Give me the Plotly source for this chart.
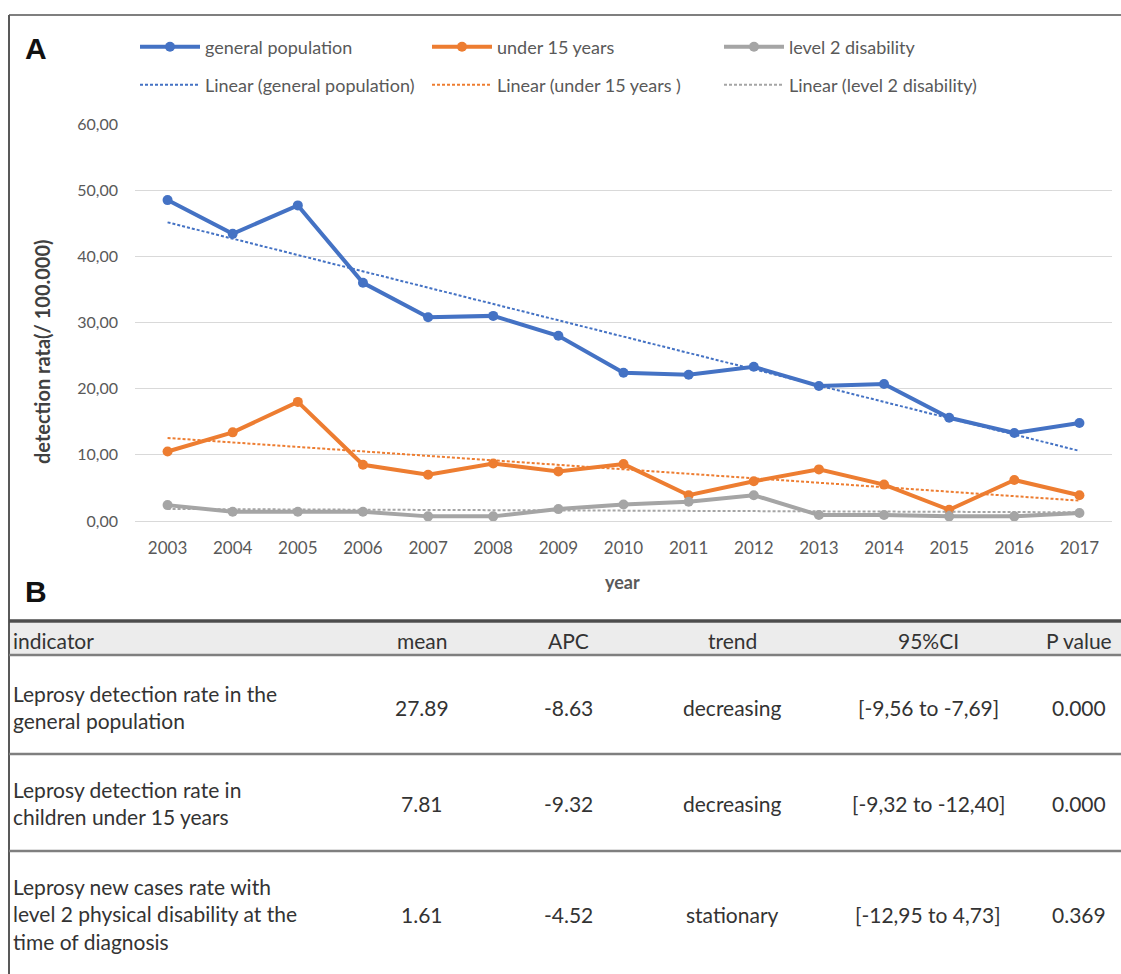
import numpy as np
import plotly.graph_objects as go

# ---- chart data: detection rates per 100,000 ----
years = list(range(2003, 2018))
general_population = [48.5, 43.4, 47.7, 36.0, 30.8, 31.0, 28.0, 22.4, 22.1, 23.3, 20.4, 20.7, 15.6, 13.3, 14.8]
under_15_years = [10.5, 13.4, 18.0, 8.5, 7.0, 8.7, 7.5, 8.6, 3.9, 6.0, 7.8, 5.5, 1.7, 6.2, 3.9]
level_2_disability = [2.4, 1.4, 1.4, 1.4, 0.7, 0.7, 1.8, 2.5, 2.9, 3.9, 0.9, 0.9, 0.7, 0.7, 1.2]
y_ticks = [0, 10, 20, 30, 40, 50, 60]

# ---- table data ----
table_header = ["indicator", "mean", "APC", "trend", "95%CI", "P value"]
indicator_labels = [
    "Leprosy detection rate in the<br>general population",
    "Leprosy detection rate in<br>children under 15 years",
    "Leprosy new cases rate with<br>level 2 physical disability at the<br>time of diagnosis",
]
mean_values = ["27.89", "7.81", "1.61"]
apc_values = ["-8.63", "-9.32", "-4.52"]
trend_labels = ["decreasing", "decreasing", "stationary"]
ci_labels = ["[-9,56 to -7,69]", "[-9,32 to -12,40]", "[-12,95 to 4,73]"]
p_values = ["0.000", "0.000", "0.369"]

series = [
    ("general population", "Linear (general population)", general_population, "#4472C4"),
    ("under 15 years", "Linear (under 15 years )", under_15_years, "#ED7D31"),
    ("level 2 disability", "Linear (level 2 disability)", level_2_disability, "#A5A5A5"),
]

W, H = 1121, 974
PL, PR, PT, PB = 135, 1112, 124, 521  # plot area in pixels


def fx(px):
    return (px - PL) / (PR - PL)


def fy(py):
    return (PB - py) / (PB - PT)


CHART_FONT = "Lato"
TABLE_FONT = "Lato"
GREY_TEXT = "#595959"

fig = go.Figure()

for name, _, values, color in series:
    fig.add_trace(go.Scatter(
        x=years, y=values, name=name, mode="lines+markers",
        line=dict(color=color, width=4),
        marker=dict(color=color, size=10, symbol="circle"),
        legend="legend",
    ))

# least-squares linear trend for each series
xs = np.array(years, dtype=float)
for _, lin_name, values, color in series:
    slope, intercept = np.polyfit(xs, np.array(values), 1)
    fig.add_trace(go.Scatter(
        x=years, y=(slope * xs + intercept).tolist(), name=lin_name, mode="lines",
        line=dict(color=color, width=2, dash="3px,2px"),
        legend="legend2",
    ))

legend_common = dict(
    orientation="h", x=0, xanchor="left", yanchor="middle",
    itemwidth=60, entrywidth=217, entrywidthmode="pixels",
    font=dict(family=CHART_FONT, size=18, color=GREY_TEXT),
    bgcolor="rgba(0,0,0,0)", borderwidth=0, traceorder="normal",
)

shapes = []
line_grey = "#7f7f7f"
# panel frame: top edge and left edge
shapes.append(dict(type="line", xref="paper", yref="paper", x0=fx(9), x1=fx(W + 2), y0=fy(15), y1=fy(15),
                   line=dict(color=line_grey, width=2)))
shapes.append(dict(type="line", xref="paper", yref="paper", x0=fx(9), x1=fx(9), y0=fy(15), y1=fy(H + 2),
                   line=dict(color="#595959", width=2)))
# table header band and rules
shapes.append(dict(type="rect", xref="paper", yref="paper", x0=fx(10), x1=fx(W + 2), y0=fy(623), y1=fy(654),
                   fillcolor="#ececec", line=dict(width=0), layer="below"))
shapes.append(dict(type="line", xref="paper", yref="paper", x0=fx(9), x1=fx(W + 2), y0=fy(621), y1=fy(621),
                   line=dict(color="#4d4d4d", width=3.5)))
for ry in [655, 754, 851]:
    shapes.append(dict(type="line", xref="paper", yref="paper", x0=fx(9), x1=fx(W + 2), y0=fy(ry), y1=fy(ry),
                       line=dict(color=line_grey, width=2.5)))


def note(text, x, y, size, color, family, xanchor="center", align="center", angle=0):
    return dict(text=text, x=fx(x), y=fy(y), xref="paper", yref="paper", showarrow=False,
                xanchor=xanchor, yanchor="middle", align=align, textangle=angle,
                font=dict(family=family, size=size, color=color))


annotations = [
    note("<b>A</b>", 36, 48, 30, "#111111", "Liberation Sans"),
    note("<b>B</b>", 36, 591, 30, "#111111", "Liberation Sans"),
    note("<b>detection rata(/ 100.000)</b>", 42, 352, 20, "#404040", CHART_FONT, angle=-90),
    note("<b>year</b>", 622, 582, 18, GREY_TEXT, CHART_FONT),
]

table_text = "#333333"
TS = 21
col_centers = [None, 422, 568, 732, 928, 1079]
header_y = 640
row_y = [707, 803, 914]

annotations.append(note(table_header[0], 11, header_y, TS, table_text, TABLE_FONT, xanchor="left", align="left"))
for cx, label in zip(col_centers[1:], table_header[1:]):
    annotations.append(note(label, cx, header_y, TS, table_text, TABLE_FONT))

for i, ry in enumerate(row_y):
    annotations.append(note(indicator_labels[i], 11, ry, TS, table_text, TABLE_FONT, xanchor="left", align="left"))
    for cx, col in zip(col_centers[1:], [mean_values, apc_values, trend_labels, ci_labels, p_values]):
        annotations.append(note(col[i], cx, ry, TS, table_text, TABLE_FONT))

fig.update_layout(
    width=W, height=H,
    margin=dict(l=PL, r=W - PR, t=PT, b=H - PB, pad=0),
    paper_bgcolor="white", plot_bgcolor="white",
    separators=",.",
    showlegend=True,
    legend=dict(y=fy(47), **legend_common),
    legend2=dict(y=fy(85), **legend_common),
    xaxis=dict(
        range=[2002.5, 2017.5], tickmode="array", tickvals=years, ticktext=[str(y) for y in years],
        showgrid=False, zeroline=False, showline=False, ticks="",
        tickfont=dict(family=CHART_FONT, size=17, color=GREY_TEXT), ticklabelstandoff=15,
        fixedrange=True,
    ),
    yaxis=dict(
        range=[0, 60], tickmode="array", tickvals=y_ticks, tickformat=".2f",
        showgrid=True, gridcolor="#d9d9d9", gridwidth=1,
        zeroline=True, zerolinecolor="#d9d9d9", zerolinewidth=1, showline=False, ticks="",
        tickfont=dict(family=CHART_FONT, size=16, color=GREY_TEXT), ticklabelstandoff=16,
        fixedrange=True,
    ),
    shapes=shapes,
    annotations=annotations,
)

fig.write_html("out.html")
